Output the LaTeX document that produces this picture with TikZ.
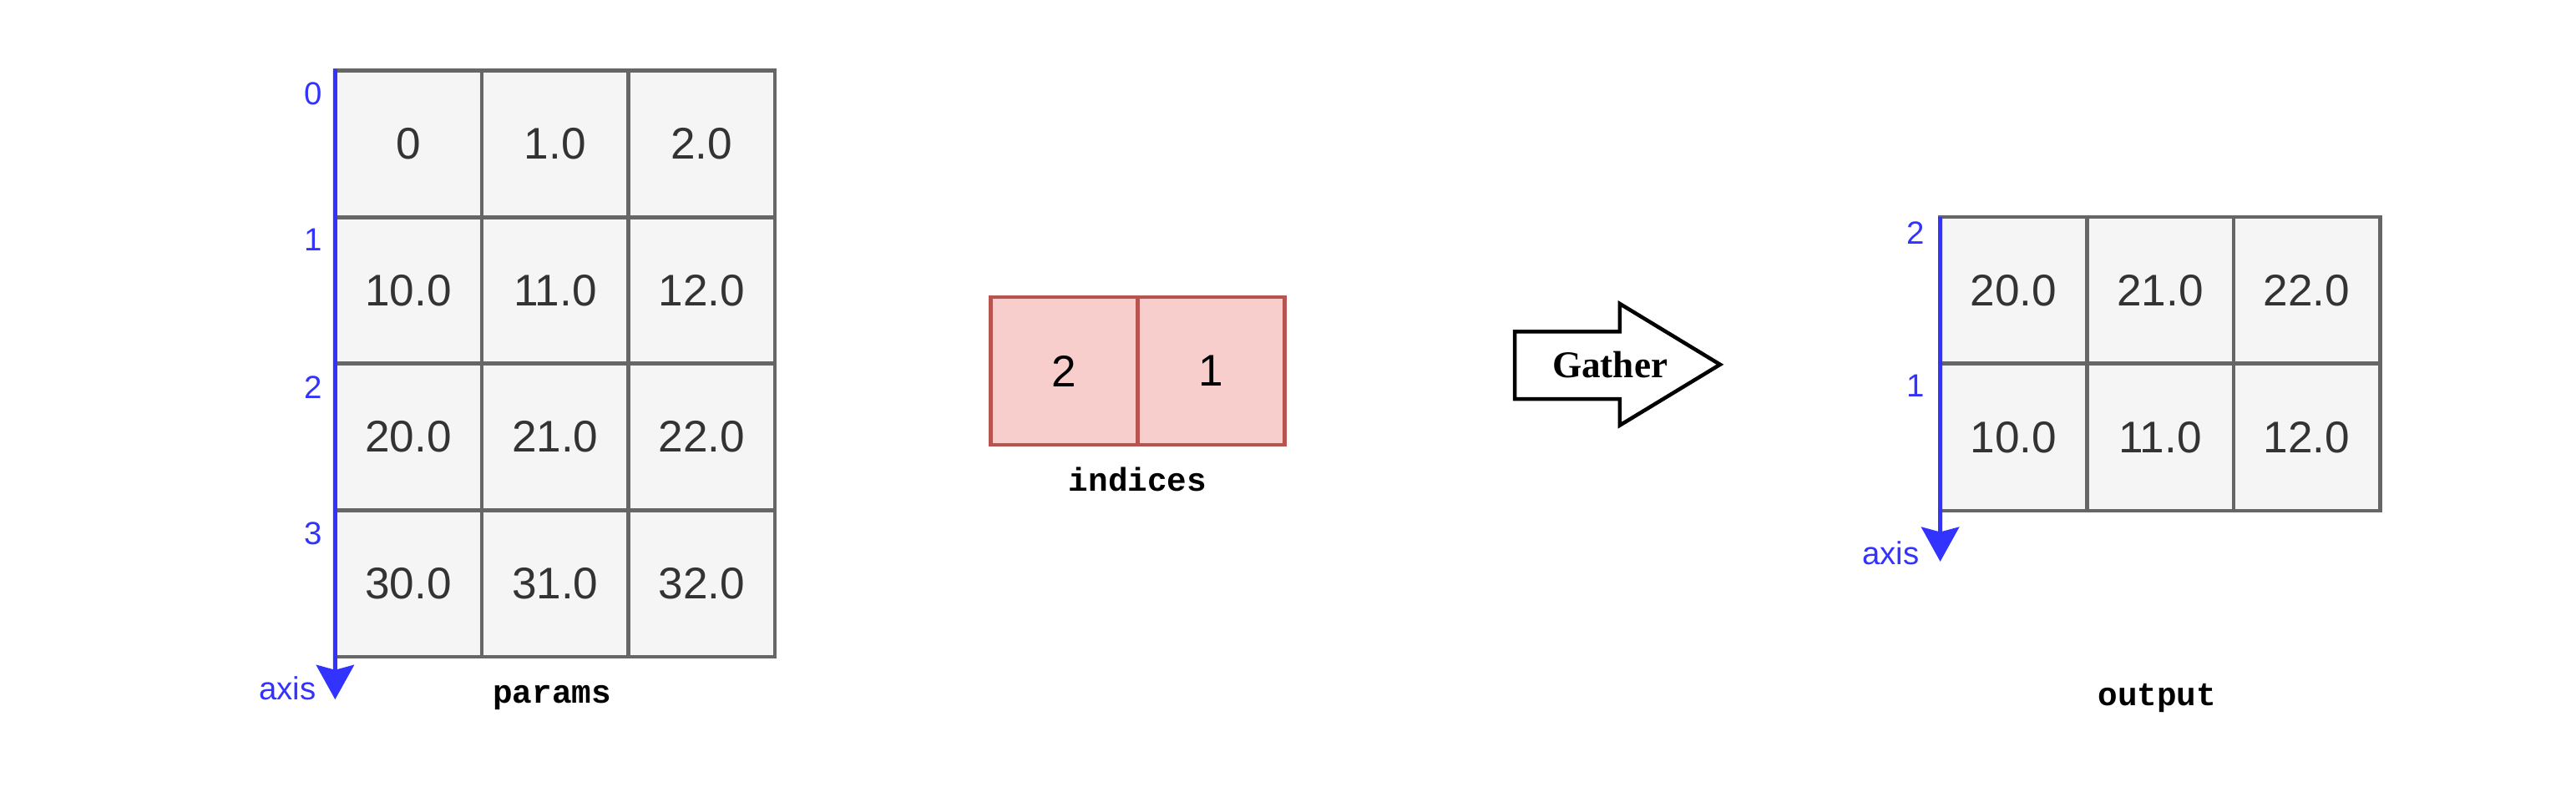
\documentclass[tikz,border=0pt]{standalone}
\usepackage{fontspec}
\setmainfont{Liberation Sans}
\newfontfamily\monofont{Liberation Mono}
\newfontfamily\seriffont{Liberation Serif}
\usetikzlibrary{arrows.meta}
\definecolor{cellfill}{HTML}{F5F5F5}
\definecolor{cellline}{HTML}{666666}
\definecolor{celltext}{HTML}{333333}
\definecolor{idxfill}{HTML}{F8CECC}
\definecolor{idxline}{HTML}{B85450}
\definecolor{axisblue}{HTML}{3333FF}
\tikzset{
  cell/.style={draw=cellline, fill=cellfill, line width=2.3pt, text=celltext,
    minimum width=89.25pt, minimum height=89.25pt, inner sep=0pt, outer sep=0pt,
    font=\fontsize{27}{30}\selectfont},
  ocell/.style={cell, minimum height=89.5pt},
  idxcell/.style={draw=idxline, fill=idxfill, line width=2.3pt, text=black,
    minimum width=89.5pt, minimum height=90pt, inner sep=0pt, outer sep=0pt,
    font=\fontsize{27}{30}\selectfont},
  axisline/.style={draw=axisblue, line width=2.5pt,
    -{Stealth[length=21pt,width=23pt,inset=3pt]}},
  axislabel/.style={text=axisblue, inner sep=0pt, font=\fontsize{19.5}{22}\selectfont},
  caption/.style={inner sep=0pt, font=\monofont\bfseries\fontsize{20}{22}\selectfont},
}
\begin{document}
\begin{tikzpicture}[x=1pt,y=-1pt]
\useasboundingbox (0,0) rectangle (1568,488);
% params
\node[cell] (p00) at (248.6,87.6) {0};
\node[cell] (p01) at (337.9,87.6) {1.0};
\node[cell] (p02) at (427.1,87.6) {2.0};
\node[cell] (p10) at (248.6,176.9) {10.0};
\node[cell] (p11) at (337.9,176.9) {11.0};
\node[cell] (p12) at (427.1,176.9) {12.0};
\node[cell] (p20) at (248.6,266.1) {20.0};
\node[cell] (p21) at (337.9,266.1) {21.0};
\node[cell] (p22) at (427.1,266.1) {22.0};
\node[cell] (p30) at (248.6,355.4) {30.0};
\node[cell] (p31) at (337.9,355.4) {31.0};
\node[cell] (p32) at (427.1,355.4) {32.0};
\coordinate (paxisend) at (204,426);
\draw[axisline] (p00.north west) ++(0,-1) -- (paxisend);
\node[axislabel] (pl0) at (190.5,57) {0};
\node[axislabel] (pl1) at (190.5,146) {1};
\node[axislabel] (pl2) at (190.5,236) {2};
\node[axislabel] (pl3) at (190.5,325) {3};
\node[axislabel] (paxis) at (175,419) {axis};
\node[caption] (params) at (336,425) {params};
% indices
\node[idxcell] (i0) at (647.8,226) {2};
\node[idxcell] (i1) at (737.3,226) {1};
\node[caption] (indices) at (692.5,292) {indices};
% gather arrow
\draw[line width=2.3pt, fill=white, line join=miter]
  (922,202) -- (986,202) -- (986,185) -- (1047,222) -- (986,259) -- (986,243) -- (922,243) -- cycle;
\node[inner sep=0pt, font=\seriffont\bfseries\fontsize{23}{26}\selectfont] (gather) at (980,222) {Gather};
% output
\node[ocell] (o00) at (1225.6,176.8) {20.0};
\node[ocell] (o01) at (1314.9,176.8) {21.0};
\node[ocell] (o02) at (1404.1,176.8) {22.0};
\node[ocell] (o10) at (1225.6,266.2) {10.0};
\node[ocell] (o11) at (1314.9,266.2) {11.0};
\node[ocell] (o12) at (1404.1,266.2) {12.0};
\coordinate (oaxisend) at (1181,342);
\draw[axisline] (o00.north west) -- (oaxisend);
\node[axislabel] (ol2) at (1166,142) {2};
\node[axislabel] (ol1) at (1166,235) {1};
\node[axislabel] (oaxis) at (1151,337) {axis};
\node[caption] (output) at (1313,425) {output};
\end{tikzpicture}
\end{document}
